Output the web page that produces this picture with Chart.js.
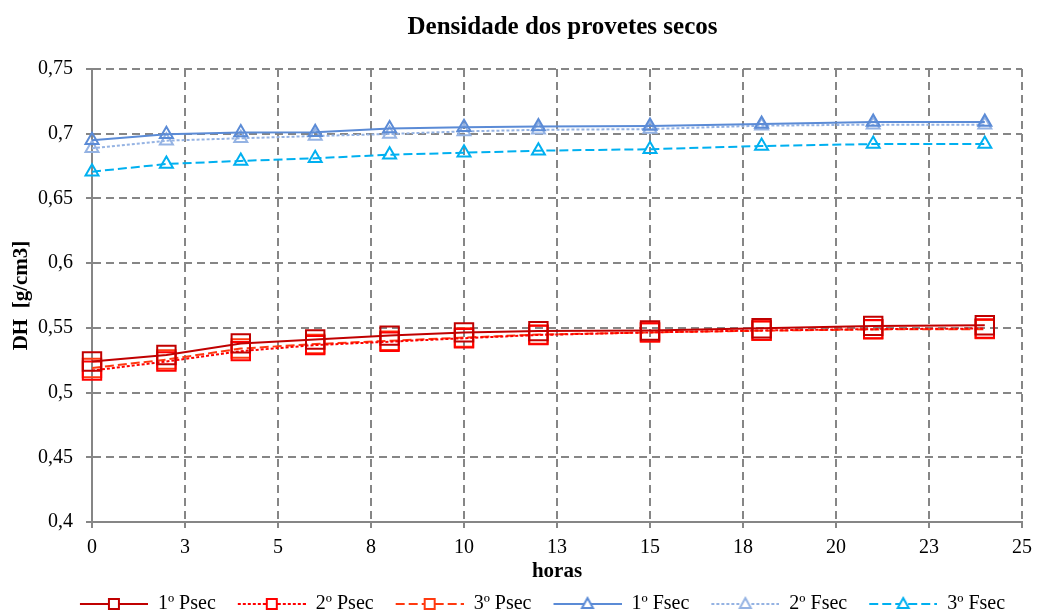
<!DOCTYPE html>
<html>
<head>
<meta charset="utf-8">
<script src="https://cdn.jsdelivr.net/npm/chart.js@4.4.1/dist/chart.umd.min.js"></script>
<style>
  html, body { margin: 0; padding: 0; background: #fff; }
  #wrap { width: 1037px; height: 616px; }
</style>
</head>
<body>
<div id="wrap"><canvas id="densChart" width="1037" height="616"></canvas></div>
<script>
// horas de secagem
const horas = [0, 2, 4, 6, 8, 10, 12, 15, 18, 21, 24];

const psec1 = [0.524, 0.529, 0.538, 0.541, 0.544, 0.5465, 0.5475, 0.548, 0.5497, 0.5515, 0.552];
const psec2 = [0.517, 0.524, 0.532, 0.5367, 0.5393, 0.542, 0.5445, 0.5465, 0.548, 0.549, 0.5495];
const psec3 = [0.519, 0.5255, 0.534, 0.5375, 0.540, 0.5425, 0.5448, 0.5465, 0.5478, 0.5488, 0.549];
const fsec1 = [0.695, 0.6995, 0.701, 0.7012, 0.704, 0.705, 0.7055, 0.706, 0.7075, 0.709, 0.709];
const fsec2 = [0.6887, 0.6946, 0.6965, 0.6982, 0.6998, 0.7018, 0.703, 0.7036, 0.7062, 0.707, 0.707];
const fsec3 = [0.6707, 0.6766, 0.679, 0.681, 0.6838, 0.6853, 0.6869, 0.688, 0.6905, 0.692, 0.692];

const seriesNames = ['1º Psec', '2º Psec', '3º Psec', '1º Fsec', '2º Fsec', '3º Fsec'];
const yTicks = [0.4, 0.45, 0.5, 0.55, 0.6, 0.65, 0.7, 0.75];

const serif = '"Liberation Serif", "Times New Roman", serif';

function pts(vals) {
    return vals.map(function (v, i) { return { x: horas[i], y: v }; });
}

// legend symbol: line sample with the marker in the middle (12px blank on the left as spacing)
function legendIcon(color, dash, shape) {
    const c = document.createElement('canvas');
    c.width = 80; c.height = 18;
    const g = c.getContext('2d');
    g.strokeStyle = color;
    g.lineWidth = 2;
    g.setLineDash(dash);
    g.beginPath(); g.moveTo(12, 9); g.lineTo(80, 9); g.stroke();
    g.setLineDash([]);
    g.fillStyle = '#fff';
    g.beginPath();
    if (shape === 'rect') {
        g.rect(41, 4, 10, 10);
    } else {
        g.moveTo(46, 3); g.lineTo(51.5, 13); g.lineTo(40.5, 13); g.closePath();
    }
    g.fill(); g.stroke();
    return c;
}

const styles = [
    { color: '#C00000', dash: [], shape: 'rect', r: 13 },
    { color: '#FF0000', dash: [3, 2], shape: 'rect', r: 13 },
    { color: '#FF3A10', dash: [9, 4], shape: 'rect', r: 13 },
    { color: '#5B8BD6', dash: [], shape: 'triangle', r: 7.5 },
    { color: '#95B3E3', dash: [3, 2], shape: 'triangle', r: 7.5 },
    { color: '#00B0F0', dash: [9, 4], shape: 'triangle', r: 7.5 }
];
const allData = [psec1, psec2, psec3, fsec1, fsec2, fsec3];

const datasets = allData.map(function (vals, i) {
    const s = styles[i];
    return {
        label: seriesNames[i],
        data: pts(vals),
        borderColor: s.color,
        backgroundColor: 'rgba(0,0,0,0)',
        borderWidth: 2,
        borderDash: s.dash,
        pointStyle: s.shape,
        pointRadius: s.r,
        pointBorderWidth: 2,
        pointBorderColor: s.color,
        pointBackgroundColor: 'rgba(0,0,0,0)',
        tension: 0,
        clip: false,
        legendIcon: legendIcon(s.color, s.dash, s.shape)
    };
});

// nudge title and legend horizontally to where the original puts them
const shiftBlocks = {
    id: 'shiftBlocks',
    afterLayout: function (chart) {
        if (chart.titleBlock) { chart.titleBlock.left += 40; chart.titleBlock.right += 40; }
        if (chart.legend) { chart.legend.left += 14; chart.legend.right += 14; }
    }
};

const gridOpts = { color: '#868686', lineWidth: 2, drawTicks: true, tickLength: 6, tickColor: '#868686', tickWidth: 2 };

const ctx = document.getElementById('densChart').getContext('2d');
new Chart(ctx, {
    type: 'line',
    data: { datasets: datasets },
    plugins: [shiftBlocks],
    options: {
        responsive: false,
        animation: false,
        layout: { padding: { left: 8, right: 0, top: 0, bottom: -8 } },
        scales: {
            x: {
                type: 'linear',
                min: 0,
                max: 25,
                afterFit: function (scale) {
                    scale.height = 62;
                    scale.paddingRight = 14;
                },
                ticks: {
                    stepSize: 2.5,
                    color: '#000',
                    font: { family: serif, size: 20 },
                    padding: 8,
                    maxRotation: 0,
                    callback: function (v) { return String(Math.round(v)); }
                },
                grid: gridOpts,
                border: { display: true, color: '#868686', width: 2, dash: [8, 5] },
                title: {
                    display: true,
                    text: 'horas',
                    color: '#000',
                    font: { family: serif, size: 21, weight: 'bold' },
                    padding: { top: 2, bottom: 0 }
                }
            },
            y: {
                min: 0.4,
                max: 0.75,
                afterBuildTicks: function (scale) {
                    scale.ticks = yTicks.map(function (v) { return { value: v }; });
                },
                afterFit: function (scale) { scale.width = 84; },
                ticks: {
                    color: '#000',
                    font: { family: serif, size: 20 },
                    padding: 13,
                    callback: function (v) { return String(Number(v.toFixed(2))).replace('.', ','); }
                },
                grid: gridOpts,
                border: { display: true, color: '#868686', width: 2, dash: [8, 5] },
                title: {
                    display: true,
                    text: 'DH  [g/cm3]',
                    color: '#000',
                    font: { family: serif, size: 21, weight: 'bold' },
                    padding: { top: 1, bottom: 0 }
                }
            }
        },
        plugins: {
            title: {
                display: true,
                text: 'Densidade dos provetes secos',
                color: '#000',
                font: { family: serif, size: 25, weight: 'bold' },
                padding: { top: 13, bottom: 26 }
            },
            legend: {
                display: true,
                position: 'bottom',
                labels: {
                    usePointStyle: true,
                    pointStyleWidth: 80,
                    padding: 10,
                    color: '#000',
                    font: { family: serif, size: 20 },
                    generateLabels: function (chart) {
                        return chart.data.datasets.map(function (ds, i) {
                            return {
                                text: ds.label,
                                pointStyle: ds.legendIcon,
                                fillStyle: ds.borderColor,
                                strokeStyle: ds.borderColor,
                                lineWidth: 0,
                                fontColor: '#000',
                                hidden: false,
                                datasetIndex: i
                            };
                        });
                    }
                }
            },
            tooltip: { enabled: false }
        }
    }
});
</script>
</body>
</html>
